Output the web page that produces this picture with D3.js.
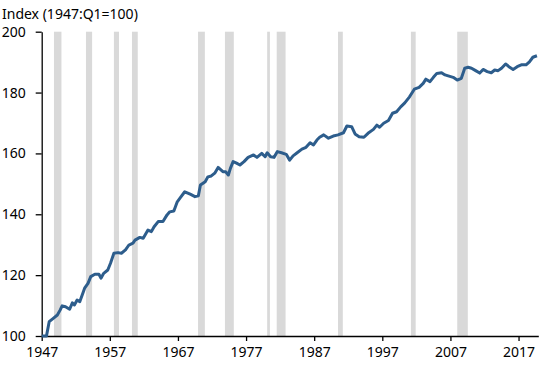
<!DOCTYPE html>
<html>
<head>
<meta charset="utf-8">
<script src="https://cdn.jsdelivr.net/npm/d3@7"></script>
<style>
  body { margin: 0; background: #fff; }
  svg { display: block; font-family: "Noto Sans", sans-serif; }
  .axis text { font-size: 14px; fill: #000; font-family: "Noto Sans", sans-serif; }
  .axis path, .axis line { stroke: #000; stroke-width: 1.3; }
</style>
</head>
<body>
<svg id="chart" width="550" height="365"></svg>
<script>
// values (decimal year, index value)
const years = [
  1947.0, 1947.7, 1948.1, 1948.7, 1949.3, 1949.7, 1950.0, 1950.5, 1951.1, 1951.5,
  1951.8, 1952.2, 1952.6, 1953.0, 1953.3, 1953.8, 1954.2, 1954.8, 1955.4, 1955.7,
  1956.1, 1956.7, 1957.1, 1957.6, 1958.2, 1958.7, 1959.3, 1959.8, 1960.4, 1960.7,
  1961.4, 1961.9, 1962.6, 1963.1, 1963.5, 1964.1, 1964.8, 1965.4, 1965.8, 1966.4,
  1966.9, 1967.3, 1968.0, 1968.8, 1969.5, 1970.0, 1970.3, 1971.0, 1971.4, 1971.9,
  1972.4, 1972.9, 1973.6, 1974.0, 1974.4, 1974.7, 1975.1, 1975.6, 1976.1, 1976.7,
  1977.3, 1978.1, 1978.6, 1979.3, 1979.8, 1980.1, 1980.6, 1981.1, 1981.6, 1982.2,
  1982.9, 1983.4, 1983.9, 1984.5, 1985.2, 1985.8, 1986.4, 1986.9, 1987.4, 1987.8,
  1988.4, 1989.1, 1989.8, 1990.5, 1991.3, 1991.8, 1992.5, 1993.0, 1993.6, 1994.3,
  1994.9, 1995.7, 1996.2, 1996.6, 1997.2, 1997.9, 1998.5, 1999.1, 1999.7, 2000.3,
  2001.0, 2001.7, 2002.4, 2003.0, 2003.4, 2004.0, 2004.5, 2005.0, 2005.7, 2006.2,
  2006.8, 2007.4, 2008.0, 2008.6, 2009.1, 2009.6, 2010.1, 2010.7, 2011.3, 2011.8,
  2012.4, 2013.0, 2013.5, 2014.0, 2014.5, 2015.1, 2015.7, 2016.2, 2016.8, 2017.4,
  2018.1, 2018.6, 2019.1, 2019.7
];
const values = [
  100.0, 100.0, 104.7, 105.8, 106.9, 108.5, 109.9, 109.6, 108.8, 110.9,
  110.2, 111.8, 111.3, 113.8, 115.7, 117.3, 119.5, 120.3, 120.3, 119.0,
  120.6, 121.7, 123.9, 127.2, 127.4, 127.2, 128.3, 129.9, 130.5, 131.5,
  132.4, 132.1, 134.8, 134.3, 135.9, 137.6, 137.6, 139.8, 140.8, 141.1,
  144.1, 145.3, 147.4, 146.6, 145.8, 146.1, 149.6, 150.7, 152.3, 152.6,
  153.5, 155.4, 154.0, 154.0, 152.9, 155.1, 157.3, 156.8, 156.2, 157.3,
  158.7, 159.5, 158.7, 160.0, 158.9, 160.2, 158.9, 158.7, 160.6, 160.2,
  159.7, 157.8, 159.2, 160.2, 161.4, 162.0, 163.5, 162.8, 164.4, 165.3,
  166.1, 165.0, 165.7, 166.1, 166.8, 169.0, 168.8, 166.4, 165.5, 165.3,
  166.6, 167.9, 169.3, 168.6, 169.9, 170.8, 173.2, 173.7, 175.3, 176.6,
  178.6, 181.1, 181.7, 183.0, 184.4, 183.6, 185.0, 186.3, 186.5, 185.8,
  185.4, 185.0, 184.1, 184.7, 188.0, 188.3, 188.0, 187.2, 186.4, 187.6,
  186.9, 186.5, 187.4, 187.2, 188.0, 189.4, 188.3, 187.6, 188.5, 189.1,
  189.1, 190.1, 191.6, 192.1
];

// shaded recession periods [start, end]
const recessions = [
  [1948.8, 1949.9], [1953.5, 1954.4], [1957.6, 1958.35], [1960.25, 1961.1],
  [1969.95, 1970.95], [1973.9, 1975.2], [1980.1, 1980.5], [1981.5, 1982.8],
  [1990.5, 1991.2], [2001.2, 2001.9], [2008.0, 2009.55]
];

const xTicks = [1947, 1957, 1967, 1977, 1987, 1997, 2007, 2017];
const yTicks = [100, 120, 140, 160, 180, 200];

let svg = d3.select("#chart");

let x = d3.scaleLinear().domain([1947, 2019.9]).range([41.7, 538.3]);
let y = d3.scaleLinear().domain([100, 200]).range([336, 31.7]);

// recession bars
svg.append("g")
  .selectAll("rect")
  .data(recessions)
  .enter()
  .append("rect")
  .attr("x", d => x(d[0]))
  .attr("width", d => x(d[1]) - x(d[0]))
  .attr("y", y(200))
  .attr("height", y(100) - y(200))
  .attr("fill", "#d9d9d9");

// axes
svg.append("g")
  .attr("class", "axis")
  .attr("transform", "translate(0," + y(100) + ")")
  .call(d3.axisBottom(x).tickValues(xTicks).tickFormat(d3.format("d")).tickSize(5).tickSizeOuter(0).tickPadding(6));

svg.append("g")
  .attr("class", "axis")
  .attr("transform", "translate(" + x(1947) + ",0)")
  .call(d3.axisLeft(y).tickValues(yTicks).tickSize(6).tickSizeOuter(0).tickPadding(10));

// the index line
let pts = years.map((yr, i) => [yr, values[i]]);
let line = d3.line()
  .x(d => x(d[0]))
  .y(d => y(d[1]));

svg.append("path")
  .datum(pts)
  .attr("d", line)
  .attr("fill", "none")
  .attr("stroke", "#2d5d8c")
  .attr("stroke-width", 3)
  .attr("stroke-linejoin", "round");

// unit label
svg.append("text")
  .attr("x", 2)
  .attr("y", 19)
  .attr("font-size", 14)
  .text("Index (1947:Q1=100)");
</script>
</body>
</html>
